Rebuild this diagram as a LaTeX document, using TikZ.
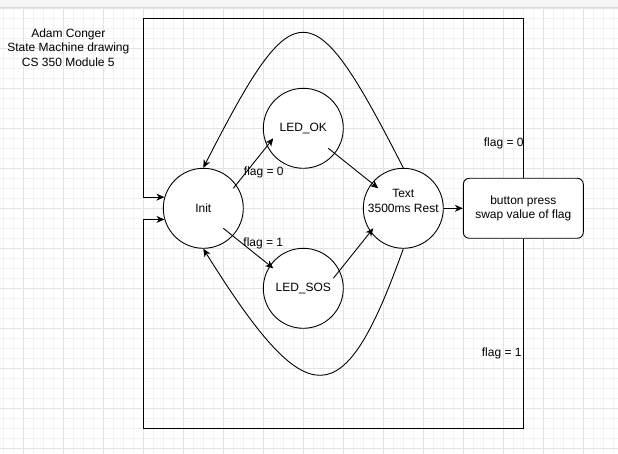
\documentclass[tikz,border=0pt]{standalone}
\usepackage{fontspec}
\setmainfont{Liberation Sans}
\usetikzlibrary{arrows.meta}

\begin{document}
\begin{tikzpicture}[x=1pt,y=-1pt,line width=0.9pt,
  state/.style={draw,circle,minimum size=80pt,fill=white},
  action/.style={draw,rectangle,rounded corners=6pt,minimum width=120pt,minimum height=60pt,fill=white,align=center},
  edge/.style={-{Stealth[length=8pt,width=7pt,inset=2.5pt]}},
  gridminor/.style={line width=0.6pt,black!5},
  gridmajor/.style={line width=0.6pt,black!11}]
        \tikzstyle{every node}+=[inner sep=0pt,font=\fontsize{12}{14.5}\selectfont]
        \useasboundingbox (0,0) rectangle (618,454);
        \fill [white] (0,0) rectangle (618,454);
        \foreach \gx in {3.3,13.3,...,613.3} \draw [gridminor] (\gx,7) -- (\gx,454);
        \foreach \gy in {8.3,18.3,...,448.3} \draw [gridminor] (0,\gy) -- (618,\gy);
        \foreach \gx in {23.3,63.3,...,583.3} \draw [gridmajor] (\gx,7) -- (\gx,454);
        \foreach \gy in {8.3,48.3,...,448.3} \draw [gridmajor] (0,\gy) -- (618,\gy);
        \fill [black!4] (0,0) rectangle (618,7);
        \draw [black!14,line width=0.8pt] (0,7) -- (618,7);
        \node [align=center] (title) at (68.3,47.7) {Adam Conger\\State Machine drawing\\CS 350 Module 5};
        \node [state] (Init) at (203.3,208.3) {Init};
        \node [state] (LedOk) at (303.3,128.3) {LED\_OK};
        \node [state] (LedSos) at (303.3,288.3) {LED\_SOS};
        \node [state,align=center] (Rest) at (403.3,208.3) {Text\\3500ms Rest\\\mbox{}};
        \node [action] (Button) at (523.3,208.3) {button press\\swap value of flag};
        \coordinate (frameNW) at (143.3,18.3);
        \coordinate (frameSW) at (143.3,428.3);
        \draw [edge] (Button.north) |- (frameNW) |- (Init.164);
        \draw [edge] (Button.south) |- (frameSW) |- (Init.196);
        \node [anchor=east] (flagZeroLoop) at (524,143.3) {flag = 0};
        \node [anchor=east] (flagOneLoop) at (522,353.3) {flag = 1};
        \draw [edge] ([shift={(30,-20)}]Init.center) -- ([shift={(-30,10)}]LedOk.center);
        \node (flagZero) at (263.8,172.7) {flag = 0};
        \draw [edge] ([shift={(20,20)}]Init.center) -- ([shift={(-30,-20)}]LedSos.center);
        \node (flagOne) at (263.3,243.3) {flag = 1};
        \draw [edge] ([shift={(25,20)}]LedOk.center) -- ([shift={(-25,-20)}]Rest.center);
        \draw [edge] ([shift={(30,-10)}]LedSos.center) -- ([shift={(-30,20)}]Rest.center);
        \draw [edge] (Rest.east) -- (Button.west);
        \draw [edge] (Rest.north) .. controls +(-92,-180) and +(92,-180) .. (Init.north);
        \draw [edge] (Rest.south) .. controls +(-60,168) and +(105,168) .. (Init.south);
\end{tikzpicture}
\end{document}
